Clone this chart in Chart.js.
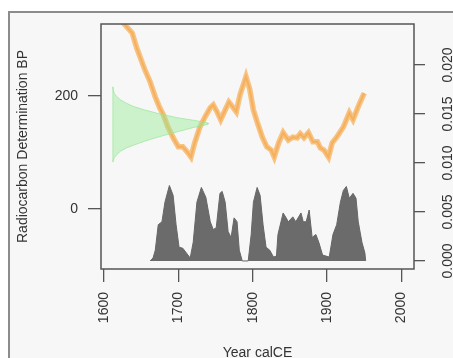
<!DOCTYPE html>
<html>
<head>
<meta charset="utf-8">
<script src="https://cdn.jsdelivr.net/npm/chart.js@4/dist/chart.umd.min.js"></script>
<style>
  html, body { margin: 0; padding: 0; background: #fff; overflow: hidden; }
  #frame { position: absolute; left: 8px; top: 11px; width: 500px; height: 400px;
           border-left: 2px solid #8c8c8c; border-top: 2px solid #8c8c8c; background: #f7f7f7; }
  #chart { position: absolute; left: 0; top: 0; }
</style>
</head>
<body>
<div id="frame"></div>
<canvas id="chart" width="453" height="358"></canvas>
<script>
// tick values
const yearTicks = [1600, 1700, 1800, 1900, 2000];
const bpTicks = [0, 200];
const probTicks = [0, 0.005, 0.010, 0.015, 0.020];
const probLabels = ['0.000', '0.005', '0.010', '0.015', '0.020'];

// calibration curve (radiocarbon age BP by calendar year)
const calYears = [1612, 1620, 1626, 1638, 1644, 1651, 1655, 1662, 1669, 1675, 1680, 1686, 1693, 1700, 1706, 1712,
  1717, 1722, 1729, 1736, 1743, 1747, 1752, 1757, 1763, 1768, 1774, 1778, 1783, 1791, 1796, 1801, 1806, 1813,
  1819, 1825, 1829, 1835, 1841, 1848, 1854, 1860, 1864, 1869, 1875, 1881, 1887, 1891, 1896, 1902, 1907, 1913,
  1922, 1930, 1935, 1942, 1950];
const calBP = [365, 345, 329, 311, 285, 260, 246, 225, 198, 179, 166, 145, 126, 110, 110, 101,
  92, 117, 145, 163, 179, 184, 172, 158, 175, 189, 179, 172, 202, 234, 212, 175, 154, 127,
  110, 104, 92, 117, 135, 122, 127, 126, 133, 126, 135, 119, 119, 108, 104, 92, 117, 127,
  145, 170, 158, 181, 205];

// radiocarbon determination drawn on the y axis (outline)
const detYears = [1612, 1612.5, 1614, 1617, 1622, 1630, 1640, 1655, 1675, 1700, 1720, 1732, 1740,
  1740, 1732, 1720, 1700, 1675, 1655, 1640, 1630, 1622, 1617, 1614, 1612.5, 1612, 1612];
const detBP = [216, 210, 204, 199, 193, 187, 181, 175, 168, 161, 157, 154, 152,
  150, 147, 144, 137, 128, 120, 113, 108, 102, 96, 91, 86, 83, 216];

// calibrated probability
const probYears = [1662, 1666, 1669, 1673, 1678, 1682, 1688, 1693, 1697, 1701, 1706, 1711, 1716, 1720, 1725,
  1731, 1737, 1743, 1747, 1751, 1756, 1759, 1763, 1767, 1771, 1775, 1779, 1782, 1786, 1794, 1798, 1801,
  1806, 1810, 1814, 1818, 1823, 1828, 1832, 1834, 1841, 1845, 1848, 1854, 1858, 1865, 1868, 1872, 1876,
  1880, 1885, 1889, 1894, 1903, 1908, 1913, 1918, 1922, 1926, 1930, 1935, 1939, 1942, 1947, 1951, 1952];
const probValues = [0, 0.0003, 0.0011, 0.0037, 0.0040, 0.0060, 0.0077, 0.0067, 0.0037, 0.0014, 0.0013, 0.0008,
  0.0003, 0.0019, 0.0060, 0.0075, 0.0065, 0.0040, 0.0032, 0.0034, 0.0069, 0.0071, 0.0060, 0.0030, 0.0024,
  0.0044, 0.0040, 0.0011, 0, 0, 0.0027, 0.0060, 0.0075, 0.0067, 0.0037, 0.0014, 0.0011, 0.0004, 0.0005,
  0.0027, 0.0049, 0.0044, 0.0040, 0.0045, 0.0040, 0.0049, 0.0040, 0.0040, 0.0052, 0.0024, 0.0027, 0.0019,
  0.0006, 0.0004, 0.0027, 0.0037, 0.0060, 0.0072, 0.0076, 0.0064, 0.0069, 0.0064, 0.0040, 0.0019, 0.0008, 0];

const toPoints = (xs, ys) => xs.map((x, i) => ({ x: x, y: ys[i] }));

const textColor = '#333';
const font = { family: "'Liberation Sans', Arial, sans-serif", size: 14 };
const tickGrid = { drawOnChartArea: false, drawTicks: true, tickLength: 13, color: '#555', lineWidth: 1.3 };

const boxPlugin = {
  id: 'box',
  afterDraw(chart) {
    const { ctx, chartArea: a } = chart;
    ctx.save();
    ctx.strokeStyle = '#555';
    ctx.lineWidth = 1.5;
    ctx.strokeRect(a.left, a.top, a.right - a.left, a.bottom - a.top);
    // right axis labels, rotated like R's default
    const s = chart.scales.y1;
    ctx.fillStyle = textColor;
    ctx.font = `${font.size}px ${font.family}`;
    ctx.textAlign = 'center';
    ctx.textBaseline = 'middle';
    probTicks.forEach((v, i) => {
      ctx.save();
      ctx.translate(448, s.getPixelForValue(v));
      ctx.rotate(-Math.PI / 2);
      ctx.fillText(probLabels[i], 0, 0);
      ctx.restore();
    });
    ctx.restore();
  }
};

const calPoints = toPoints(calYears, calBP);

const ctx = document.getElementById('chart').getContext('2d');
new Chart(ctx, {
  type: 'line',
  data: {
    datasets: [
      {
        data: toPoints(detYears, detBP),
        yAxisID: 'y',
        borderColor: 'rgba(150, 230, 150, 0.7)',
        backgroundColor: 'rgba(150, 235, 150, 0.45)',
        borderWidth: 1,
        fill: 'shape'
      },
      {
        // darker core of the curve band
        data: calPoints,
        yAxisID: 'y',
        borderColor: 'rgba(240, 160, 60, 0.55)',
        borderWidth: 2,
        fill: false,
        clip: 0
      },
      {
        data: calPoints,
        yAxisID: 'y',
        borderColor: 'rgba(247, 180, 100, 0.8)',
        borderWidth: 5.5,
        fill: false,
        clip: 0
      },
      {
        data: toPoints(probYears, probValues),
        yAxisID: 'y1',
        borderColor: '#666',
        backgroundColor: '#6b6b6b',
        borderWidth: 1,
        fill: 'origin'
      }
    ]
  },
  options: {
    responsive: false,
    animation: false,
    layout: { padding: { top: 24, left: 0, right: 0, bottom: 0 } },
    elements: { point: { radius: 0 }, line: { tension: 0 } },
    plugins: { legend: { display: false }, tooltip: { enabled: false } },
    scales: {
      x: {
        type: 'linear', position: 'bottom', min: 1596, max: 2017,
        afterBuildTicks: s => { s.ticks = yearTicks.map(v => ({ value: v })); },
        afterFit: s => { s.height = 89; },
        grid: tickGrid,
        border: { display: false },
        ticks: { minRotation: 90, maxRotation: 90, padding: 10, font: font, color: textColor,
                 callback: v => String(v) },
        title: { display: true, text: 'Year calCE', font: font, color: textColor, padding: { top: 0, bottom: -4 } }
      },
      y: {
        type: 'linear', position: 'left', min: -106, max: 327,
        afterBuildTicks: s => { s.ticks = bpTicks.map(v => ({ value: v })); },
        afterFit: s => { s.width = 101; },
        grid: tickGrid,
        border: { display: false },
        ticks: { padding: 10, font: font, color: textColor },
        title: { display: true, text: 'Radiocarbon Determination BP', font: font, color: textColor, padding: { top: 15, bottom: 0 } }
      },
      y1: {
        type: 'linear', position: 'right', min: -0.00082, max: 0.02418,
        afterBuildTicks: s => { s.ticks = probTicks.map(v => ({ value: v })); },
        afterFit: s => { s.width = 39; },
        grid: Object.assign({}, tickGrid, { tickLength: 11 }),
        border: { display: false },
        ticks: { display: false }
      }
    }
  },
  plugins: [boxPlugin]
});
</script>
</body>
</html>
